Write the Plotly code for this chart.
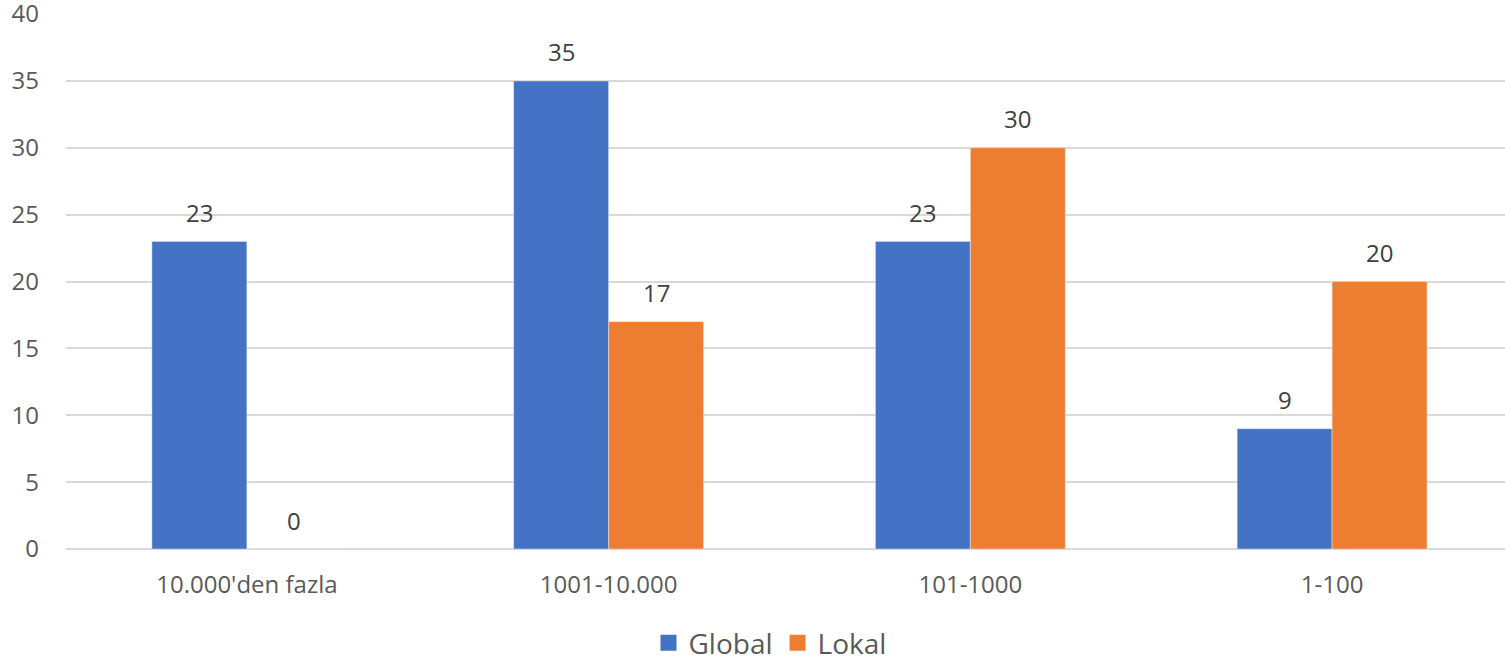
import plotly.graph_objects as go

categories = ["10.000'den fazla", "1001-10.000", "101-1000", "1-100"]
global_vals = [23, 35, 23, 9]
lokal_vals = [0, 17, 30, 20]
y_ticks = [0, 5, 10, 15, 20, 25, 30, 35, 40]

FONT = "Open Sans"
BLUE, ORANGE = "#4472C4", "#ED7D31"
BARGAP = 0.475
half = (1 - BARGAP) / 4  # offset of each bar centre from category centre
W, H = 1505, 661

fig = go.Figure()
fig.add_trace(go.Bar(name="Global", x=categories, y=global_vals, marker_color=BLUE,
                     showlegend=False))
fig.add_trace(go.Bar(name="Lokal", x=categories, y=lokal_vals, marker_color=ORANGE,
                     showlegend=False))
# legend entries with larger square swatches
for name, col in (("Global", BLUE), ("Lokal", ORANGE)):
    fig.add_trace(go.Scatter(name=name, x=[None], y=[None], mode="markers",
                             marker=dict(symbol="square", size=16, color=col)))

annotations = []
for i, (g, l) in enumerate(zip(global_vals, lokal_vals)):
    for val, off in ((g, -half), (l, half)):
        annotations.append(dict(x=i + off, y=val, xref="x", yref="y", text=str(val),
                                showarrow=False, yshift=29, yanchor="middle",
                                font=dict(size=24, color="#404040", family=FONT)))

fig.update_layout(
    width=W, height=H,
    margin=dict(l=66, r=0, t=14, b=112, autoexpand=False),
    paper_bgcolor="white", plot_bgcolor="white",
    barmode="group", bargap=BARGAP, bargroupgap=0,
    font=dict(family=FONT, color="#595959", size=24),
    legend=dict(orientation="h", x=770 / W, xanchor="center", xref="container",
                y=(H - 643) / H, yanchor="middle", yref="container",
                font=dict(size=28, color="#595959"), itemwidth=30,
                itemsizing="trace"),
    showlegend=True,
    annotations=annotations,
)
fig.update_xaxes(range=[-0.5, 3.478], showgrid=False, showline=False, ticks="",
                 tickfont=dict(size=24, color="#595959"), automargin=False,
                 ticklabelstandoff=19)
fig.update_yaxes(range=[0, 40], tickvals=y_ticks, showgrid=True, gridcolor="#D9D9D9",
                 gridwidth=1.5, zeroline=True, zerolinecolor="#D9D9D9", zerolinewidth=1.5,
                 showline=False, ticks="", tickfont=dict(size=24, color="#595959"),
                 ticklabelstandoff=26, automargin=False, ticklabeloverflow="allow")
fig.write_html("out.html", config={"displayModeBar": False},
               post_script="document.body.style.margin='0';document.body.style.overflow='hidden';")
